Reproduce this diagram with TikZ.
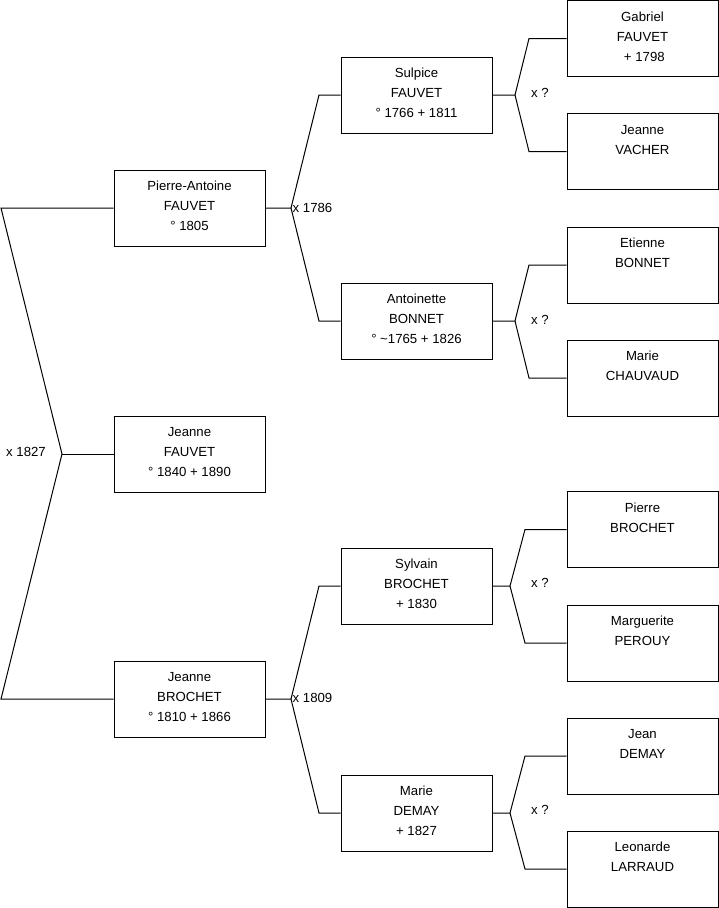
\documentclass[tikz,border=0pt]{standalone}
\usepackage{fontspec}
\setmainfont{Liberation Sans}
\newcommand{\personbox}[1]{\parbox[c][76pt][t]{151pt}{\fontsize{13.2}{20}\selectfont\centering\rule{0pt}{20.5pt}#1\par}}
\tikzset{
  person/.style={draw, line width=1pt, inner sep=0pt, minimum width=151pt, minimum height=76pt},
  link/.style={line width=1pt},
  marr/.style={inner sep=0pt, anchor=west, font=\fontsize{13.2}{15}\selectfont}
}
\begin{document}
\begin{tikzpicture}[x=1pt,y=-1pt]
\useasboundingbox (0,0) rectangle (719,908);
% generation 1
\node[person] (pa) at (189.5,208) {\personbox{Pierre-Antoine\\FAUVET\\° 1805}};
\node[person] (jf) at (189.5,454) {\personbox{Jeanne\\FAUVET\\° 1840 + 1890}};
\node[person] (jb) at (189.5,699) {\personbox{Jeanne\\BROCHET\\° 1810 + 1866}};
% generation 2
\node[person] (su) at (416.5,95) {\personbox{Sulpice\\FAUVET\\° 1766 + 1811}};
\node[person] (an) at (416.5,321) {\personbox{Antoinette\\BONNET\\° \textasciitilde 1765 + 1826}};
\node[person] (sy) at (416.5,586) {\personbox{Sylvain\\BROCHET\\+ 1830}};
\node[person] (md) at (416.5,813) {\personbox{Marie\\DEMAY\\+ 1827}};
% generation 3
\node[person] (ga) at (642.5,38.5) {\personbox{Gabriel\\FAUVET\\\ + 1798}};
\node[person] (jv) at (642.5,151.5) {\personbox{Jeanne\\VACHER}};
\node[person] (et) at (642.5,265) {\personbox{Etienne\\BONNET}};
\node[person] (mc) at (642.5,378) {\personbox{Marie\\CHAUVAUD}};
\node[person] (pb) at (642.5,529.5) {\personbox{Pierre\\BROCHET}};
\node[person] (mp) at (642.5,643) {\personbox{Marguerite\\PEROUY}};
\node[person] (jd) at (642.5,756) {\personbox{Jean\\DEMAY}};
\node[person] (le) at (642.5,869) {\personbox{Leonarde\\LARRAUD}};
% junction points
\coordinate (c1) at (1,208);
\coordinate (c2) at (1,699);
\coordinate (j0) at (62,454);
\coordinate (j1) at (291,208);
\coordinate (b1u) at (319,95);
\coordinate (b1d) at (319,321);
\coordinate (j2) at (291,699);
\coordinate (b2u) at (319,586);
\coordinate (b2d) at (319,813);
\coordinate (j3) at (515,95);
\coordinate (b3u) at (529,38.5);
\coordinate (b3d) at (529,151.5);
\coordinate (j4) at (515,321);
\coordinate (b4u) at (529,265);
\coordinate (b4d) at (529,378);
\coordinate (j5) at (510,586);
\coordinate (b5u) at (525,529.5);
\coordinate (b5d) at (525,643);
\coordinate (j6) at (510,813);
\coordinate (b6u) at (525,756);
\coordinate (b6d) at (525,869);
% connectors
\draw[link] (pa.west) -- (c1) -- (j0) -- (c2) -- (jb.west);
\draw[link] (j0) -- (jf.west);
\draw[link] (pa.east) -- (j1) -- (b1u) -- (su.west);
\draw[link] (j1) -- (b1d) -- (an.west);
\draw[link] (jb.east) -- (j2) -- (b2u) -- (sy.west);
\draw[link] (j2) -- (b2d) -- (md.west);
\draw[link] (su.east) -- (j3) -- (b3u) -- (ga.west);
\draw[link] (j3) -- (b3d) -- (jv.west);
\draw[link] (an.east) -- (j4) -- (b4u) -- (et.west);
\draw[link] (j4) -- (b4d) -- (mc.west);
\draw[link] (sy.east) -- (j5) -- (b5u) -- (pb.west);
\draw[link] (j5) -- (b5d) -- (mp.west);
\draw[link] (md.east) -- (j6) -- (b6u) -- (jd.west);
\draw[link] (j6) -- (b6d) -- (le.west);
% marriage labels
\node[marr] (m0) at (6,452) {x 1827};
\node[marr] (m1) at (292.5,207.5) {x 1786};
\node[marr] (m2) at (292.5,698) {x 1809};
\node[marr] (m3) at (531,93) {x ?};
\node[marr] (m4) at (531,320) {x ?};
\node[marr] (m5) at (531,583) {x ?};
\node[marr] (m6) at (531,810) {x ?};
\end{tikzpicture}
\end{document}
